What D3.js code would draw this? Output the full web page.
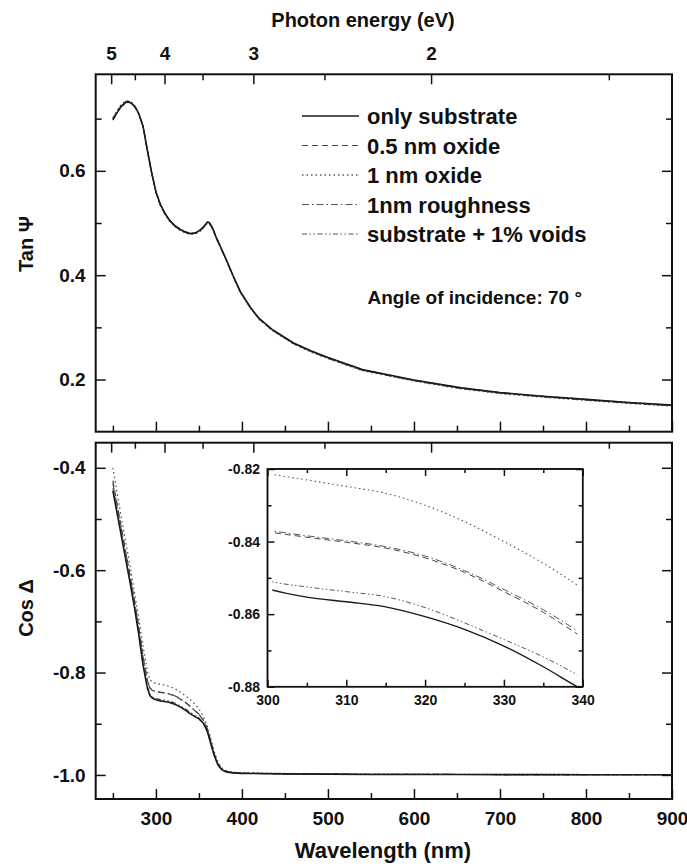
<!DOCTYPE html>
<html>
<head>
  <meta charset="utf-8">
  <title>Tan Psi / Cos Delta vs wavelength</title>
  <script src="https://d3js.org/d3.v7.min.js"></script>
  <style>
    body { margin: 0; background: #fff; }
    svg { display: block; background: #fff; }
    text { font-family: "Liberation Sans", Arial, sans-serif; font-weight: bold; fill: #111; }
    .tick line { stroke: #111; stroke-width: 1.5px; }
    .domain { display: none; }
    .frame { fill: none; stroke: #111; stroke-width: 2px; }
    .inset-frame { fill: #fff; stroke: #111; stroke-width: 1.5px; }
    .curve { fill: none; stroke-linejoin: round; }
  </style>
</head>
<body>
<svg id="chart" width="687" height="866"></svg>
<script>
  const HC = 1239.84; // eV*nm, for the photon energy axis

  // series names (legend order)
  const seriesNames = ["only substrate", "0.5 nm oxide", "1 nm oxide", "1nm roughness", "substrate + 1% voids"];

  // axis ticks
  const lamMajor = [300, 400, 500, 600, 700, 800, 900];
  const lamMinor = [250, 350, 450, 550, 650, 750, 850];
  const energyMajor = [5, 4, 3, 2];
  const energyMinor = [4.5, 3.5, 2.5, 1.5];
  const tanMajor = [0.2, 0.4, 0.6];
  const tanMinor = [0.3, 0.5, 0.7];
  const cosMajor = [-1.0, -0.8, -0.6, -0.4];
  const cosMinor = [-0.9, -0.7, -0.5];
  const insetXMajor = [300, 310, 320, 330, 340];
  const insetXMinor = [305, 315, 325, 335];
  const insetYMajor = [-0.88, -0.86, -0.84, -0.82];
  const insetYMinor = [-0.87, -0.85, -0.83];

  // Tan Psi (top panel)
  const lamTan = [250,255,260,265,268,272,276,280,285,290,295,300,305,310,316,322,328,334,340,346,352,356,360,362,366,370,375,382,390,398,410,420,435,460,480,500,540,600,655,700,750,800,850,900];
  const tanSub   = [0.698,0.712,0.724,0.731,0.732,0.729,0.722,0.710,0.686,0.640,0.597,0.560,0.536,0.520,0.505,0.495,0.488,0.483,0.480,0.481,0.487,0.494,0.502,0.501,0.490,0.473,0.455,0.429,0.398,0.369,0.338,0.317,0.296,0.270,0.255,0.242,0.219,0.199,0.184,0.175,0.168,0.162,0.156,0.151];
  const tanOx05  = [0.700,0.714,0.726,0.733,0.733,0.730,0.722,0.709,0.685,0.639,0.596,0.559,0.535,0.519,0.504,0.494,0.487,0.482,0.479,0.480,0.486,0.493,0.501,0.500,0.489,0.472,0.454,0.428,0.397,0.368,0.337,0.316,0.295,0.269,0.254,0.241,0.218,0.198,0.183,0.174,0.167,0.161,0.155,0.150];
  const tanOx1   = [0.702,0.716,0.728,0.734,0.734,0.731,0.723,0.709,0.684,0.638,0.595,0.558,0.534,0.518,0.503,0.493,0.486,0.481,0.478,0.479,0.485,0.492,0.500,0.499,0.488,0.471,0.453,0.427,0.396,0.367,0.336,0.315,0.294,0.268,0.253,0.240,0.217,0.197,0.182,0.173,0.166,0.160,0.154,0.149];
  const tanRough = [0.699,0.713,0.725,0.732,0.733,0.730,0.722,0.710,0.686,0.640,0.597,0.560,0.536,0.519,0.504,0.494,0.487,0.482,0.479,0.480,0.486,0.493,0.501,0.500,0.489,0.472,0.454,0.428,0.397,0.368,0.337,0.316,0.295,0.269,0.254,0.241,0.218,0.198,0.183,0.174,0.167,0.161,0.155,0.150];
  const tanVoids = [0.697,0.711,0.723,0.730,0.731,0.728,0.721,0.709,0.686,0.641,0.598,0.561,0.537,0.520,0.505,0.495,0.488,0.483,0.480,0.481,0.487,0.494,0.502,0.501,0.490,0.473,0.455,0.429,0.398,0.369,0.338,0.317,0.296,0.270,0.255,0.242,0.219,0.199,0.184,0.175,0.168,0.162,0.156,0.151];

  // Cos Delta (bottom panel and inset)
  const lamCos = [250,255,260,265,270,275,280,285,290,293,296,300,305,310,315,320,325,330,335,340,345,350,355,360,364,368,372,376,380,385,390,400,450,500,550,600,650,700,750,800,850,900];
  const cosSub   = [-0.445,-0.490,-0.535,-0.580,-0.625,-0.672,-0.725,-0.785,-0.830,-0.845,-0.850,-0.8530,-0.8553,-0.8566,-0.8580,-0.8607,-0.8642,-0.8688,-0.8745,-0.8808,-0.8855,-0.8905,-0.8985,-0.9160,-0.9400,-0.9630,-0.9800,-0.9890,-0.9930,-0.9950,-0.9960,-0.9970,-0.9980,-0.9985,-0.9990,-0.9990,-0.9992,-0.9993,-0.9994,-0.9995,-0.9995,-0.9996];
  const cosOx05  = [-0.425,-0.472,-0.519,-0.565,-0.610,-0.658,-0.710,-0.768,-0.815,-0.830,-0.835,-0.8372,-0.8388,-0.8402,-0.8418,-0.8445,-0.8485,-0.8538,-0.8595,-0.8665,-0.8740,-0.8820,-0.8930,-0.9110,-0.9360,-0.9600,-0.9780,-0.9880,-0.9925,-0.9945,-0.9955,-0.9965,-0.9978,-0.9983,-0.9988,-0.9989,-0.9991,-0.9992,-0.9993,-0.9994,-0.9994,-0.9995];
  const cosOx1   = [-0.400,-0.450,-0.499,-0.546,-0.593,-0.642,-0.693,-0.748,-0.797,-0.814,-0.819,-0.8212,-0.8230,-0.8248,-0.8267,-0.8300,-0.8345,-0.8400,-0.8460,-0.8530,-0.8610,-0.8710,-0.8850,-0.9050,-0.9300,-0.9550,-0.9740,-0.9850,-0.9905,-0.9930,-0.9945,-0.9958,-0.9972,-0.9980,-0.9985,-0.9987,-0.9989,-0.9990,-0.9991,-0.9992,-0.9992,-0.9993];
  const cosRough = [-0.430,-0.476,-0.522,-0.567,-0.612,-0.660,-0.712,-0.769,-0.815,-0.830,-0.835,-0.8368,-0.8384,-0.8398,-0.8414,-0.8440,-0.8480,-0.8532,-0.8588,-0.8656,-0.8735,-0.8815,-0.8925,-0.9110,-0.9360,-0.9600,-0.9780,-0.9880,-0.9925,-0.9945,-0.9955,-0.9966,-0.9978,-0.9984,-0.9988,-0.9990,-0.9991,-0.9992,-0.9993,-0.9994,-0.9994,-0.9995];
  const cosVoids = [-0.440,-0.486,-0.532,-0.577,-0.622,-0.670,-0.722,-0.781,-0.826,-0.842,-0.848,-0.8508,-0.8525,-0.8538,-0.8552,-0.8582,-0.8624,-0.8670,-0.8718,-0.8775,-0.8835,-0.8890,-0.8970,-0.9150,-0.9390,-0.9620,-0.9795,-0.9888,-0.9928,-0.9948,-0.9958,-0.9968,-0.9979,-0.9984,-0.9989,-0.9990,-0.9991,-0.9992,-0.9993,-0.9994,-0.9995,-0.9995];

  const tanSeries = [tanSub, tanOx05, tanOx1, tanRough, tanVoids];
  const cosSeries = [cosSub, cosOx05, cosOx1, cosRough, cosVoids];

  // line styles, same order as seriesNames
  const styles = [
    { color: "#1a1a1a", width: 1.6, dash: null },
    { color: "#444", width: 1.2, dash: "6,4" },
    { color: "#555", width: 1.3, dash: "1.5,3" },
    { color: "#555", width: 1.2, dash: "7,3,1.5,3" },
    { color: "#555", width: 1.2, dash: "5,2.5,1.5,2.5,1.5,2.5" }
  ];

  const svg = d3.select("#chart");

  // layout
  const L = 95.7, R = 672;
  const top1 = 74.3, bot1 = 431.7;
  const top2 = 442.7, bot2 = 799;
  const inset = { l: 267.5, r: 582.7, t: 469, b: 686.7 };

  const x = d3.scaleLinear().domain([230, 900]).range([L, R]);
  const y1 = d3.scaleLinear().domain([0.1, 0.785]).range([bot1, top1]);
  const y2 = d3.scaleLinear().domain([-1.047, -0.351]).range([bot2, top2]);
  const xi = d3.scaleLinear().domain([300, 340]).range([inset.l, inset.r]);
  const yi = d3.scaleLinear().domain([-0.88, -0.82]).range([inset.b, inset.t]);

  const eToLam = e => HC / e;
  const noLabel = () => "";

  function addAxis(axis, tx, ty, fontSize) {
    const g = svg.append("g").attr("transform", `translate(${tx},${ty})`).call(axis);
    g.selectAll("text").style("font-size", fontSize + "px").attr("fill", "#111");
    return g;
  }

  // clip paths
  const defs = svg.append("defs");
  defs.append("clipPath").attr("id", "clip1").append("rect")
    .attr("x", L).attr("y", top1).attr("width", R - L).attr("height", bot1 - top1);
  defs.append("clipPath").attr("id", "clip2").append("rect")
    .attr("x", L).attr("y", top2).attr("width", R - L).attr("height", bot2 - top2);
  defs.append("clipPath").attr("id", "clipI").append("rect")
    .attr("x", xi(300.6)).attr("y", inset.t).attr("width", xi(339.3) - xi(300.6)).attr("height", inset.b - inset.t);

  // ---- top panel: Tan Psi ----
  const line1 = d3.line().x((d, i) => x(lamTan[i])).y(d => y1(d));
  const g1 = svg.append("g").attr("clip-path", "url(#clip1)");
  [4, 3, 2, 1, 0].forEach(k => {
    g1.append("path").attr("class", "curve").attr("d", line1(tanSeries[k]))
      .attr("stroke", styles[k].color).attr("stroke-width", styles[k].width)
      .attr("stroke-dasharray", styles[k].dash);
  });

  // top edge: photon energy
  addAxis(d3.axisTop(x).tickValues(energyMajor.map(eToLam)).tickSize(-10).tickPadding(14)
    .tickFormat(d => Math.round(HC / d)), 0, top1, 19);
  addAxis(d3.axisTop(x).tickValues(energyMinor.map(eToLam)).tickSize(-6).tickFormat(noLabel), 0, top1, 10);
  // bottom edge: wavelength, no labels
  addAxis(d3.axisBottom(x).tickValues(lamMajor).tickSize(-10).tickFormat(noLabel), 0, bot1, 10);
  addAxis(d3.axisBottom(x).tickValues(lamMinor).tickSize(-6).tickFormat(noLabel), 0, bot1, 10);
  // left / right
  addAxis(d3.axisLeft(y1).tickValues(tanMajor).tickSize(-10).tickPadding(10).tickFormat(d => d.toFixed(1)), L, 0, 19);
  addAxis(d3.axisLeft(y1).tickValues(tanMinor).tickSize(-6).tickFormat(noLabel), L, 0, 10);
  addAxis(d3.axisRight(y1).tickValues(tanMajor).tickSize(-10).tickFormat(noLabel), R, 0, 10);
  addAxis(d3.axisRight(y1).tickValues(tanMinor).tickSize(-6).tickFormat(noLabel), R, 0, 10);

  svg.append("rect").attr("class", "frame")
    .attr("x", L).attr("y", top1).attr("width", R - L).attr("height", bot1 - top1);

  // legend
  const legX1 = 302, legX2 = 359, legTextX = 367, legTop = 116, legStep = 29.5;
  seriesNames.forEach((name, k) => {
    const yy = legTop + k * legStep;
    svg.append("line").attr("x1", legX1).attr("x2", legX2).attr("y1", yy).attr("y2", yy)
      .attr("stroke", styles[k].color).attr("stroke-width", styles[k].width)
      .attr("stroke-dasharray", styles[k].dash);
    svg.append("text").attr("x", legTextX).attr("y", yy + 8)
      .style("font-size", "22px").text(name);
  });

  svg.append("text").attr("x", 582).attr("y", 304).attr("text-anchor", "end")
    .style("font-size", "19px").text("Angle of incidence: 70 °");

  // ---- bottom panel: Cos Delta ----
  const line2 = d3.line().x((d, i) => x(lamCos[i])).y(d => y2(d));
  const g2 = svg.append("g").attr("clip-path", "url(#clip2)");
  [4, 3, 2, 1, 0].forEach(k => {
    g2.append("path").attr("class", "curve").attr("d", line2(cosSeries[k]))
      .attr("stroke", styles[k].color).attr("stroke-width", styles[k].width)
      .attr("stroke-dasharray", styles[k].dash);
  });

  addAxis(d3.axisTop(x).tickValues(energyMajor.map(eToLam)).tickSize(-10).tickFormat(noLabel), 0, top2, 10);
  addAxis(d3.axisTop(x).tickValues(energyMinor.map(eToLam)).tickSize(-6).tickFormat(noLabel), 0, top2, 10);
  addAxis(d3.axisBottom(x).tickValues(lamMajor).tickSize(-10).tickPadding(13).tickFormat(d => d), 0, bot2, 19);
  addAxis(d3.axisBottom(x).tickValues(lamMinor).tickSize(-6).tickFormat(noLabel), 0, bot2, 10);
  addAxis(d3.axisLeft(y2).tickValues(cosMajor).tickSize(-10).tickPadding(10).tickFormat(d => d.toFixed(1)), L, 0, 19);
  addAxis(d3.axisLeft(y2).tickValues(cosMinor).tickSize(-6).tickFormat(noLabel), L, 0, 10);
  addAxis(d3.axisRight(y2).tickValues(cosMajor).tickSize(-10).tickFormat(noLabel), R, 0, 10);
  addAxis(d3.axisRight(y2).tickValues(cosMinor).tickSize(-6).tickFormat(noLabel), R, 0, 10);

  svg.append("rect").attr("class", "frame")
    .attr("x", L).attr("y", top2).attr("width", R - L).attr("height", bot2 - top2);

  // ---- inset (zoom on 300-340 nm) ----
  svg.append("rect").attr("class", "inset-frame")
    .attr("x", inset.l).attr("y", inset.t).attr("width", inset.r - inset.l).attr("height", inset.b - inset.t);

  const lineI = d3.line().curve(d3.curveMonotoneX).x((d, i) => xi(lamCos[i])).y(d => yi(d));
  const gI = svg.append("g").attr("clip-path", "url(#clipI)");
  [4, 3, 2, 1, 0].forEach(k => {
    gI.append("path").attr("class", "curve").attr("d", lineI(cosSeries[k]))
      .attr("stroke", styles[k].color).attr("stroke-width", Math.max(1, styles[k].width - 0.2))
      .attr("stroke-dasharray", styles[k].dash);
  });

  addAxis(d3.axisBottom(xi).tickValues(insetXMajor).tickSize(-7).tickPadding(8.5).tickFormat(d => d), 0, inset.b, 14);
  addAxis(d3.axisBottom(xi).tickValues(insetXMinor).tickSize(-4).tickFormat(noLabel), 0, inset.b, 10);
  addAxis(d3.axisTop(xi).tickValues(insetXMajor).tickSize(-7).tickFormat(noLabel), 0, inset.t, 10);
  addAxis(d3.axisTop(xi).tickValues(insetXMinor).tickSize(-4).tickFormat(noLabel), 0, inset.t, 10);
  addAxis(d3.axisLeft(yi).tickValues(insetYMajor).tickSize(-7).tickPadding(7.5).tickFormat(d => d.toFixed(2)), inset.l, 0, 14);
  addAxis(d3.axisLeft(yi).tickValues(insetYMinor).tickSize(-4).tickFormat(noLabel), inset.l, 0, 10);
  addAxis(d3.axisRight(yi).tickValues(insetYMajor).tickSize(-7).tickFormat(noLabel), inset.r, 0, 10);
  addAxis(d3.axisRight(yi).tickValues(insetYMinor).tickSize(-4).tickFormat(noLabel), inset.r, 0, 10);

  svg.append("rect").attr("fill", "none").attr("stroke", "#111").attr("stroke-width", 1.5)
    .attr("x", inset.l).attr("y", inset.t).attr("width", inset.r - inset.l).attr("height", inset.b - inset.t);

  // ---- axis titles ----
  svg.append("text").attr("x", 363).attr("y", 27).attr("text-anchor", "middle")
    .style("font-size", "20px").text("Photon energy (eV)");
  svg.append("text").attr("x", 383).attr("y", 858).attr("text-anchor", "middle")
    .style("font-size", "22px").text("Wavelength (nm)");
  svg.append("text").attr("transform", "translate(33,244) rotate(-90)").attr("text-anchor", "middle")
    .style("font-size", "20px").text("Tan Ψ");
  svg.append("text").attr("transform", "translate(33,608) rotate(-90)").attr("text-anchor", "middle")
    .style("font-size", "20px").text("Cos Δ");
</script>
</body>
</html>
